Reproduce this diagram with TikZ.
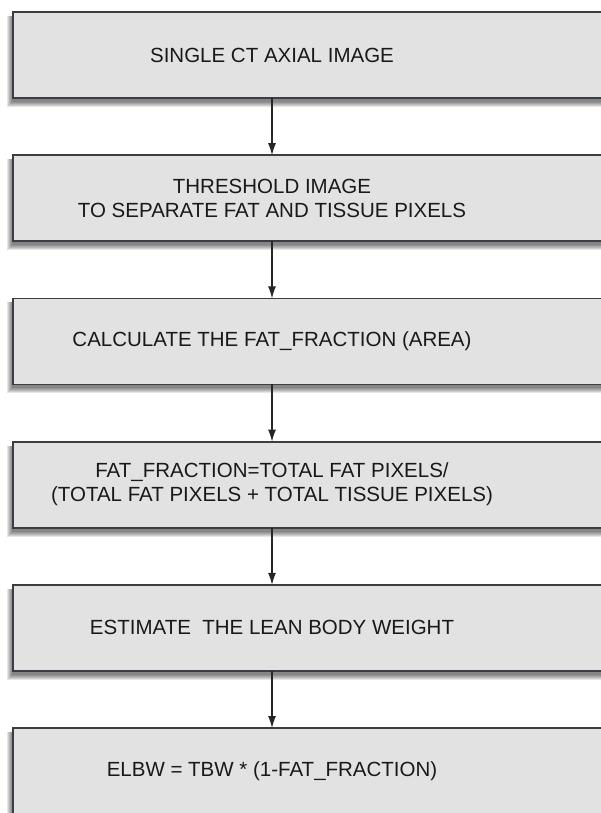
\documentclass[tikz,border=0pt]{standalone}
\usepackage{fontspec}
\setmainfont{Liberation Sans}
\usetikzlibrary{positioning,backgrounds,arrows.meta}

\definecolor{boxgray}{HTML}{E2E2E2}
\definecolor{boxline}{HTML}{383E43}

\tikzset{
  stepbox/.style={minimum width=518pt, minimum height=86pt, inner sep=0pt, outer sep=0pt,
    align=center, text=black!90, font=\fontsize{20.5}{24}\selectfont},
  boxfill/.style={fill=boxgray, draw=boxline, line width=1.8pt},
  flow/.style={-{Latex[length=12pt,width=8pt]}, line width=1.2pt, draw=black!85},
}

\begin{document}
\begin{tikzpicture}[x=1pt,y=1pt]
  \useasboundingbox (0,0) rectangle (600,-813);
  \clip (0,0) rectangle (600,-813);

  \node[stepbox] (img) at (272,-55) {SINGLE CT AXIAL IMAGE};
  \node[stepbox, below = 57.2pt of img] (thr) {THRESHOLD IMAGE\\TO SEPARATE FAT AND TISSUE PIXELS};
  \node[stepbox, below = 57.2pt of thr] (calc) {CALCULATE THE FAT\_FRACTION (AREA)};
  \node[stepbox, below = 57.2pt of calc] (frac) {FAT\_FRACTION=TOTAL FAT PIXELS/\\(TOTAL FAT PIXELS + TOTAL TISSUE PIXELS)};
  \node[stepbox, below = 57.2pt of frac] (est) {ESTIMATE\ \ THE LEAN BODY WEIGHT};
  \node[stepbox, below = 57.2pt of est] (elbw) {ELBW = TBW * (1-FAT\_FRACTION)};

  % boxes with a soft shadow, cut by the right margin
  \begin{scope}[on background layer]
    \foreach \n in {img,thr,calc,frac,est,elbw} {
      \foreach \s in {1,...,6}
        \fill[black, opacity=.1] ([xshift=-\s pt, yshift=-3pt-\s pt]\n.south west)
          rectangle ([xshift=90pt+\s pt, yshift=-4pt]\n.north east);
      \draw[boxfill] (\n.south west) rectangle ([xshift=90pt]\n.north east);
    }
  \end{scope}

  \draw[flow] (img) -- (thr);
  \draw[flow] (thr) -- (calc);
  \draw[flow] (calc) -- (frac);
  \draw[flow] (frac) -- (est);
  \draw[flow] (est) -- (elbw);

\end{tikzpicture}
\end{document}
